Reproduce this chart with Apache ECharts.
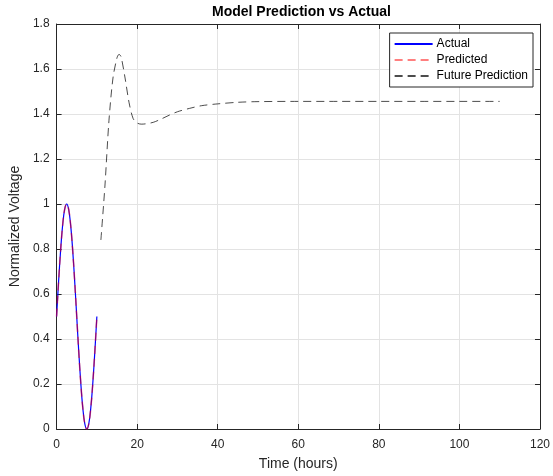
<!DOCTYPE html>
<html>
<head>
<meta charset="utf-8">
<script src="https://cdn.jsdelivr.net/npm/echarts@6/dist/echarts.min.js"></script>
<style>html,body{margin:0;padding:0;background:#fff;}#c{width:553px;height:476px;}</style>
</head>
<body>
<div id="c"></div>
<script>
// Data
var actualT = [0,0.5,1,1.5,2,2.5,3,3.5,4,4.5,5,5.5,6,6.5,7,7.5,8,8.5,9,9.5,10];
var actualV = [0.5,0.655,0.794,0.905,0.976,1.0,0.976,0.905,0.794,0.655,0.5,0.345,0.206,0.095,0.024,0,0.024,0.095,0.206,0.345,0.5];
var predT = [0,0.5,1,1.5,2,2.5,3,3.5,4,4.5,5,5.5,6,6.5,7,7.5,8,8.5,9,9.5,10];
var predV = [0.5,0.655,0.794,0.905,0.976,1.0,0.976,0.905,0.794,0.655,0.5,0.345,0.206,0.095,0.024,0,0.024,0.095,0.206,0.345,0.5];
var futureT = [11,12,13,14,15,15.5,16,17,18,19,20,21,22,24,26,28,30,33,36,40,45,50,60,70,80,90,100,110];
var futureV = [0.84,1.08,1.37,1.56,1.65,1.665,1.655,1.56,1.45,1.38,1.36,1.355,1.356,1.363,1.378,1.395,1.41,1.425,1.437,1.445,1.452,1.455,1.456,1.456,1.456,1.456,1.456,1.456];
var xTicks = [0,20,40,60,80,100,120];
var yTicks = [0,0.2,0.4,0.6,0.8,1,1.2,1.4,1.6,1.8];

function pairs(t, v){ return t.map(function(x,i){return [x, v[i]];}); }

var axisCol = '#262626';
var font = 'Liberation Sans, Arial, sans-serif';
var chart = echarts.init(document.getElementById('c'), null, {renderer:'canvas'});
chart.setOption({
  animation: false,
  backgroundColor: '#fff',
  title: {
    text: 'Model Prediction vs Actual',
    left: 207, top: 0,
    textStyle: {fontFamily: font, fontSize: 14, fontWeight: 'bold', color: '#000'}
  },
  grid: {left: 54, right: 10, top: 24, bottom: 43, containLabel: false},
  legend: {
    right: 20, top: 33, orient: 'vertical',
    backgroundColor: '#fff', borderColor: axisCol, borderWidth: 1, borderRadius: 0,
    padding: [5, 5, 5, 4],
    itemWidth: 38, itemHeight: 13, itemGap: 4,
    itemStyle: {opacity: 0},
    textStyle: {fontFamily: font, fontSize: 12, color: '#000', padding: [0, 0, 0, -1]},
    data: ['Actual', 'Predicted', 'Future Prediction']
  },
  xAxis: [{
    type: 'value', min: 0, max: 120, interval: 20,
    name: 'Time (hours)', nameLocation: 'middle', nameGap: 28,
    nameTextStyle: {fontFamily: font, fontSize: 14, color: axisCol},
    axisLine: {show: true, onZero: false, lineStyle: {color: axisCol, width: 1}},
    axisTick: {show: true, inside: true, length: 5, lineStyle: {color: axisCol}},
    axisLabel: {fontFamily: font, fontSize: 12, color: axisCol, margin: 10,
      customValues: xTicks},
    splitLine: {show: true, lineStyle: {color: '#e3e3e3', width: 1}}
  }, {
    type: 'value', min: 0, max: 120, interval: 20, position: 'top',
    axisLine: {show: true, onZero: false, lineStyle: {color: axisCol, width: 1}},
    axisTick: {show: true, inside: true, length: 5, lineStyle: {color: axisCol}},
    axisLabel: {show: false}, splitLine: {show: false}
  }],
  yAxis: [{
    type: 'value', min: 0, max: 1.8, interval: 0.2,
    name: 'Normalized Voltage', nameLocation: 'middle', nameGap: 25,
    nameTextStyle: {fontFamily: font, fontSize: 14, color: axisCol},
    axisLine: {show: true, onZero: false, lineStyle: {color: axisCol, width: 1}},
    axisTick: {show: true, inside: true, length: 5, lineStyle: {color: axisCol}},
    axisLabel: {fontFamily: font, fontSize: 12, color: axisCol, margin: 7,
      formatter: function(v){ return String(Math.round(v*10)/10); }},
    splitLine: {show: true, lineStyle: {color: '#e3e3e3', width: 1}}
  }, {
    type: 'value', min: 0, max: 1.8, interval: 0.2, position: 'right',
    axisLine: {show: true, onZero: false, lineStyle: {color: axisCol, width: 1}},
    axisTick: {show: true, inside: true, length: 5, lineStyle: {color: axisCol}},
    axisLabel: {show: false}, splitLine: {show: false}
  }],
  series: [{
    name: 'Actual', type: 'line', data: pairs(actualT, actualV),
    smooth: 0.4, symbol: 'none', color: '#0000ff',
    lineStyle: {color: '#0000ff', width: 1.2}
  }, {
    name: 'Predicted', type: 'line', data: pairs(predT, predV),
    smooth: 0.4, symbol: 'none', color: 'rgba(255,0,0,0.5)',
    lineStyle: {color: 'rgba(255,0,0,0.5)', width: 1.6, type: [8, 5]}
  }, {
    name: 'Future Prediction', type: 'line', data: pairs(futureT, futureV),
    smooth: 0.3, symbol: 'none', color: 'rgba(0,0,0,0.7)',
    lineStyle: {color: 'rgba(0,0,0,0.7)', width: 1, type: [8, 5]}
  }]
});
</script>
</body>
</html>
